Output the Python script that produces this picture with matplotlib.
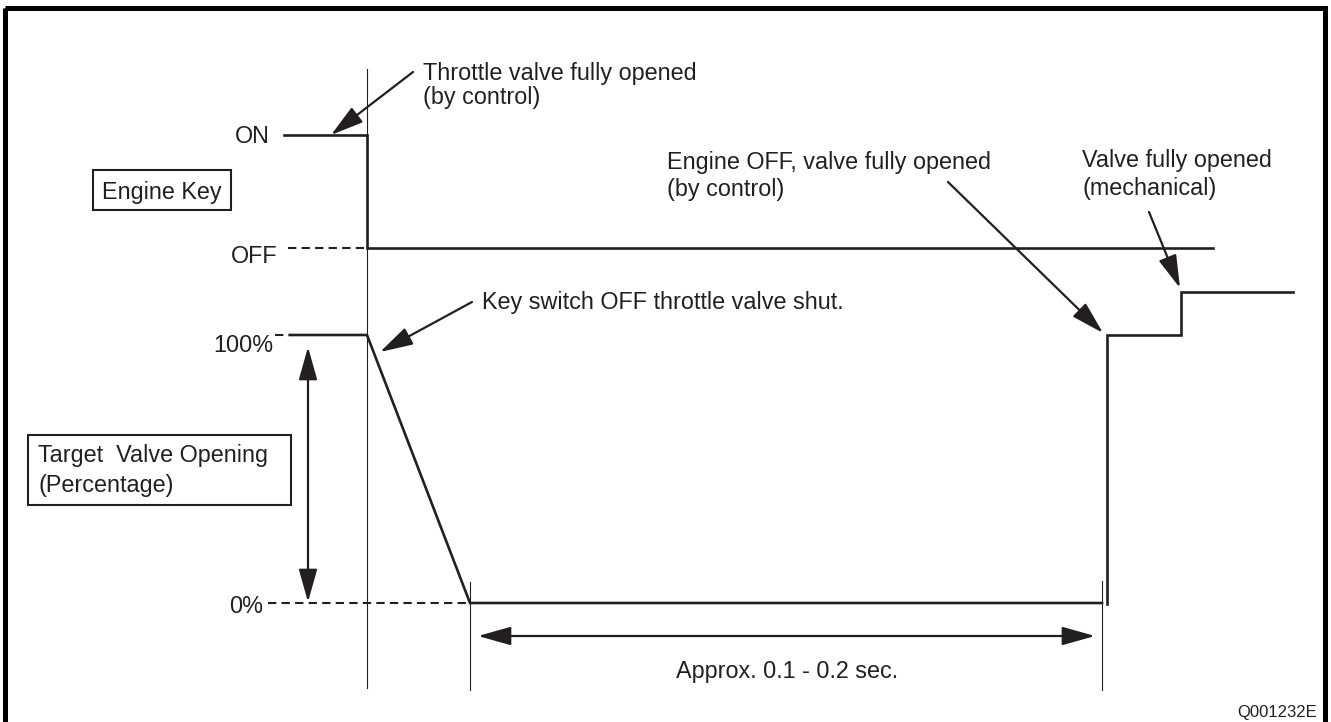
import matplotlib
matplotlib.use("Agg")
import matplotlib.pyplot as plt
from matplotlib.patches import Rectangle

plt.rcParams['font.family'] = ['Liberation Sans', 'DejaVu Sans']

# ---- data (diagram coordinates, pixel-like units, y grows downward) ----
Y_ON, Y_OFF, Y_100, Y_0 = 135, 248, 335, 603

key_x = [284, 367, 367, 1213]
key_y = [Y_ON, Y_ON, Y_OFF, Y_OFF]

valve_x = [290, 367, 470, 1102]
valve_y = [Y_100, Y_100, Y_0, Y_0]

valve2_x = [1107, 1107, 1181, 1181, 1293]
valve2_y = [604, Y_100, Y_100, 292, 292]

# dashed reference stubs: (x0, x1, y)
dash_refs = [(288, 367, Y_OFF), (275, 290, Y_100), (268, 470, Y_0)]

# thin time markers: (x, y0, y1)
markers = [(367, 69, 688), (470, 582, 690), (1102, 581, 690)]

level_labels = ["ON", "OFF", "100%", "0%"]
level_label_pos = [(270, 143), (278, 263), (273, 352), (263, 613)]

# callouts: text lines, text left x, baselines, arrow tail, arrow tip
callouts = [
    (["Throttle valve fully opened", "(by control)"], 423, [80, 104], (413, 72), (331, 135)),
    (["Key switch OFF throttle valve shut."], 482, [309], (472, 302), (380, 352)),
    (["Engine OFF, valve fully opened", "(by control)"], 667, [169, 196], (948, 182), (1103, 333)),
    (["Valve fully opened", "(mechanical)"], 1082, [167, 195], (1149, 212), (1180, 288)),
]

W, H = 1331, 722
fig = plt.figure(figsize=(W / 100, H / 100), dpi=100)
ax = fig.add_axes([0, 0, 1, 1])
ax.set_xlim(0, W)
ax.set_ylim(H, 0)
ax.axis('off')

FS = 16.8
col = '#231f20'

# outer frame
ax.add_patch(Rectangle((5, 8), 1320, 716, fill=False, lw=3.6, ec='black'))

# signals
ax.plot(key_x, key_y, color=col, lw=1.9, solid_joinstyle='miter')
ax.plot(valve_x, valve_y, color=col, lw=1.9, solid_joinstyle='miter')
ax.plot(valve2_x, valve2_y, color=col, lw=1.9, solid_joinstyle='miter')

for x0, x1, y in dash_refs:
    ax.plot([x0, x1], [y, y], color=col, lw=1.5, dashes=(4, 2.5))

for x, y0, y1 in markers:
    ax.plot([x, x], [y0, y1], color=col, lw=0.8)

for lab, (x, y) in zip(level_labels, level_label_pos):
    ax.text(x, y, lab, ha='right', va='baseline', fontsize=FS, color=col)

# boxes
ax.add_patch(Rectangle((93, 170), 138, 40, fill=False, lw=1.5, ec=col))
ax.text(102, 199, "Engine Key", ha='left', va='baseline', fontsize=FS, color=col)

ax.add_patch(Rectangle((28, 435), 263, 70, fill=False, lw=1.5, ec=col))
ax.text(38, 462, "Target  Valve Opening", ha='left', va='baseline', fontsize=FS, color=col)
ax.text(38, 492, "(Percentage)", ha='left', va='baseline', fontsize=FS, color=col)

arrow_style = '-|>,head_length=1.35,head_width=0.38'
def arrow(tail, tip, style=arrow_style):
    ax.annotate('', xy=tip, xytext=tail,
                arrowprops=dict(arrowstyle=style, color=col, lw=1.6,
                                shrinkA=0, shrinkB=0, mutation_scale=15))

for lines, tx, bases, tail, tip in callouts:
    for ln, b in zip(lines, bases):
        ax.text(tx, b, ln, ha='left', va='baseline', fontsize=FS, color=col)
    arrow(tail, tip)

# double-headed dimension arrows
dbl = '<|-|>,head_length=1.35,head_width=0.38'
arrow((308, 602), (308, 347), dbl)
arrow((478, 636), (1095, 636), dbl)
ax.text(787, 678, "Approx. 0.1 - 0.2 sec.", ha='center', va='baseline', fontsize=FS, color=col)

ax.text(1317, 717, "Q001232E", ha='right', va='baseline', fontsize=12, color=col)

fig.savefig("out.png", dpi=100)
